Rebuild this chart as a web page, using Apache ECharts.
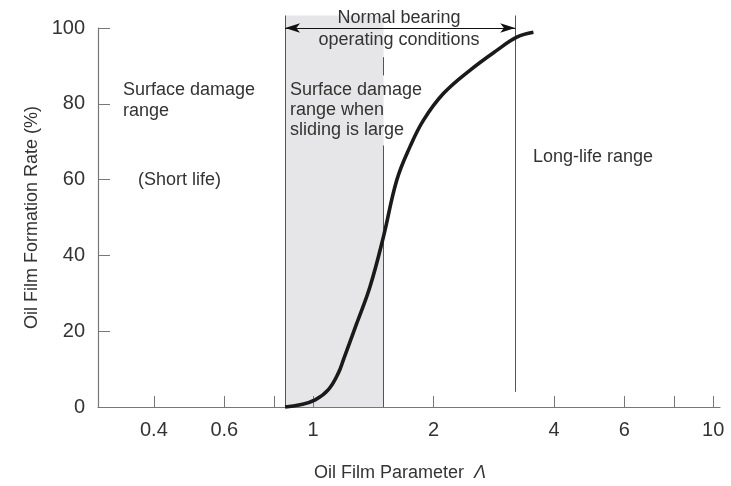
<!doctype html>
<html>
<head>
<meta charset="utf-8">
<title>Oil Film Formation Rate</title>
<script src="https://cdn.jsdelivr.net/npm/echarts@6/dist/echarts.min.js"></script>
<style>
html,body{margin:0;padding:0;background:#fff;}
#chart{width:731px;height:486px;}
</style>
</head>
<body>
<div id="chart"></div>
<script type="text/javascript">
// oil film parameter (log axis) vs formation rate (%)
var lambdaVals = [0.851, 0.928, 1.012, 1.092, 1.157, 1.191, 1.286, 1.388, 1.499, 1.619, 1.747, 1.888, 2.117, 2.470, 2.878, 3.230, 3.554];
var rateVals   = [0, 0.6, 1.9, 4.6, 9.0, 12.5, 22.1, 31.8, 44.9, 59.9, 68.7, 75.7, 82.7, 88.9, 94.1, 97.6, 98.9];

var xLabelTicks = [0.4, 0.6, 1, 2, 4, 6, 10];
var xMinorTicks = [0.4, 0.6, 0.8, 1, 2, 4, 6, 8, 10];
var xRange = [0.29, 10.4];

var shadeRange = [0.851, 1.5];   // sliding-large zone
var longLifeX = 3.2;             // start of long-life range
var topRate = 103.3;             // guide lines run a bit above 100

var font = '"Liberation Sans", Arial, Helvetica, sans-serif';
var txt = '#333';
var lineCol = '#555';
var fs = 18;

function lg(v){ return Math.log10(v); }

var curve = [];
for(var i=0;i<lambdaVals.length;i++){
	curve.push([lg(lambdaVals[i]), rateVals[i]]);
}

// second (hidden) grid uses the same px per % but reaches a bit higher
var gBottom = 79, gTop = 28;
var pxPer = (486 - gBottom - gTop) / 100;
var gTop2 = 486 - gBottom - topRate * pxPer;

var chart = echarts.init(document.getElementById('chart'));
var option = {
	animation: false,
	backgroundColor: '#fff',
	grid: [
		{left: 98, right: 11, top: gTop, bottom: gBottom, outerBoundsMode: 'none'},
		{left: 98, right: 11, top: gTop2, bottom: gBottom, outerBoundsMode: 'none'}
	],
	xAxis: [{
		type: 'value',
		gridIndex: 0,
		z: 3,
		min: lg(xRange[0]),
		max: lg(xRange[1]),
		name: 'Oil Film Parameter  {l|Λ}',
		nameLocation: 'middle',
		nameGap: 57,
		nameTextStyle: {
			color: txt, fontSize: 18, fontFamily: font, padding: [0, 18, 0, 0],
			rich: { l: { fontStyle: 'italic', fontSize: 18, color: txt, fontFamily: font } }
		},
		splitLine: {show: false},
		axisLine: {show: true, onZero: false, lineStyle: {color: '#777', width: 1.2}},
		axisTick: {
			show: true, inside: true, length: 11,
			customValues: xMinorTicks.map(lg),
			lineStyle: {color: '#777'}
		},
		axisLabel: {
			customValues: xLabelTicks.map(lg),
			margin: 13,
			color: txt, fontSize: 20, fontFamily: font,
			formatter: function(v){ return String(Math.round(Math.pow(10, v) * 10) / 10); }
		}
	}, {
		type: 'value',
		gridIndex: 1,
		min: lg(xRange[0]),
		max: lg(xRange[1]),
		show: false
	}],
	yAxis: [{
		type: 'value',
		gridIndex: 0,
		min: 0,
		max: 100,
		interval: 20,
		name: 'Oil Film Formation Rate (%)',
		nameLocation: 'middle',
		nameRotate: 90,
		nameGap: 55,
		nameTextStyle: {color: txt, fontSize: 18, fontFamily: font},
		splitLine: {show: false},
		axisLine: {show: true, onZero: false, lineStyle: {color: '#777', width: 1.2}},
		axisTick: {show: true, inside: true, length: 12, lineStyle: {color: '#777'}},
		axisLabel: {margin: 13, color: txt, fontSize: 20, fontFamily: font}
	}, {
		type: 'value',
		gridIndex: 1,
		min: 0,
		max: topRate,
		show: false
	}],
	series: [
		{
			// shade + guide lines
			type: 'line',
			xAxisIndex: 1,
			yAxisIndex: 1,
			data: [],
			z: 1,
			markArea: {
				silent: true,
				itemStyle: {color: '#e6e6e8'},
				data: [[
					{xAxis: lg(shadeRange[0]), yAxis: 0},
					{xAxis: lg(shadeRange[1]), yAxis: topRate}
				]]
			},
			markLine: {
				silent: true,
				symbol: ['none', 'none'],
				label: {show: false},
				lineStyle: {color: lineCol, width: 1, type: 'solid'},
				data: [
					[{coord: [lg(shadeRange[0]), 0]}, {coord: [lg(shadeRange[0]), topRate]}],
					[{coord: [lg(shadeRange[1]), 0]}, {coord: [lg(shadeRange[1]), 69]}],
					[{coord: [lg(shadeRange[1]), 87.5]}, {coord: [lg(shadeRange[1]), 92.3]}],
					[{coord: [lg(longLifeX), 4]}, {coord: [lg(longLifeX), topRate]}]
				]
			}
		},
		{
			// arrow for normal operating range
			type: 'line',
			data: [],
			z: 4,
			markLine: {
				silent: true,
				symbol: ['arrow', 'arrow'],
				symbolSize: [7, 15],
				label: {show: false},
				lineStyle: {color: '#111', width: 1, type: 'solid'},
				data: [
					[{coord: [lg(shadeRange[0]), 100]}, {coord: [lg(longLifeX), 100]}]
				]
			}
		},
		{
			type: 'line',
			data: curve,
			smooth: 0.4,
			showSymbol: false,
			clip: false,
			z: 5,
			lineStyle: {color: '#1a1a1a', width: 3.6}
		}
	],
	graphic: [
		{type: 'text', left: 123, top: 80, z: 10, style: {text: 'Surface damage\nrange', fill: txt, font: fs + 'px ' + font, lineHeight: 21}},
		{type: 'text', left: 138, top: 170, z: 10, style: {text: '(Short life)', fill: txt, font: fs + 'px ' + font, lineHeight: 21}},
		{type: 'text', left: 290, top: 80, z: 10, style: {text: 'Surface damage\nrange when\nsliding is large', fill: txt, font: fs + 'px ' + font, lineHeight: 20}},
		{type: 'text', x: 399, y: 7, z: 10, style: {text: 'Normal bearing\noperating conditions', fill: txt, font: fs + 'px ' + font, lineHeight: 22, align: 'center', verticalAlign: 'top'}},
		{type: 'text', left: 533, top: 147, z: 10, style: {text: 'Long-life range', fill: txt, font: fs + 'px ' + font, lineHeight: 21}}
	]
};
chart.setOption(option);
</script>
</body>
</html>
